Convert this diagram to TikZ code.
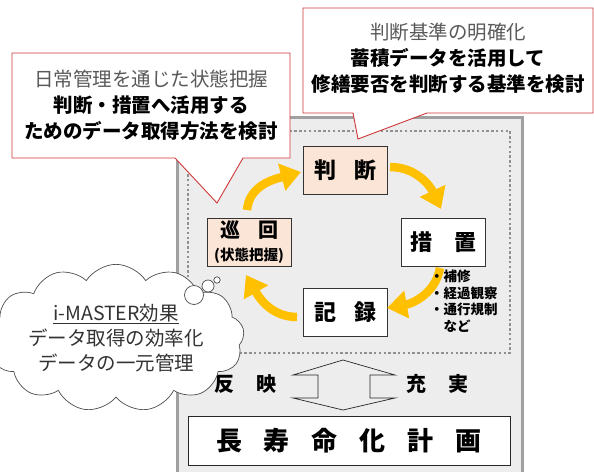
\documentclass[tikz,border=0pt]{standalone}
\usepackage{fontspec}
\setmainfont{Noto Sans CJK JP}
\usetikzlibrary{arrows.meta,shapes.symbols}
\definecolor{ayel}{HTML}{FFC000}
\definecolor{apeach}{HTML}{FBE5D6}
\definecolor{abg}{HTML}{EDEDED}
\definecolor{agrayline}{HTML}{A0A0A0}
\definecolor{ared}{HTML}{D03838}
\definecolor{atxtgray}{HTML}{595959}
\tikzset{
  cyc/.style={draw=ayel, line width=8.5pt, -{Triangle[width=27pt 0 0,length=20pt 0 0]}},
  stepbox/.style={draw=black!80, line width=0.8pt, minimum width=84pt, minimum height=48pt, font=\bfseries\fontsize{22}{24}\selectfont, inner sep=0pt},
  callout/.style={draw=ared, line width=0.9pt, fill=white},
  calltext/.style={align=center, font=\fontsize{19.5}{26}\selectfont},
}
\begin{document}
\begin{tikzpicture}[x=1pt,y=1pt]
\useasboundingbox (0,0) rectangle (594,-471);
% gray outer box
\path[fill=abg] (177,-117) rectangle (522,-480);
\draw[agrayline, line width=3pt] (177,-480) -- (177,-117) -- (522,-117) -- (522,-480);
% dotted frame
\draw[agrayline!90!black, line width=2.4pt, dash pattern=on 2.4pt off 2.4pt] (188,-131) rectangle (510,-353);
% step nodes
\node[stepbox, fill=apeach] (hd) at (345,-170) {判\hspace{18pt}断};
\node[stepbox, fill=white] (sc) at (443,-242) {措\hspace{22pt}置};
\node[stepbox, fill=white] (kr) at (345,-312) {記\hspace{18pt}録};
\node[stepbox, fill=apeach, align=center] (jk) at (249,-242) {\fontsize{20}{22}\selectfont 巡\hspace{18pt}回\\[-1pt]\fontsize{14.5}{16}\selectfont (状態把握)};
% cycle arrows
\coordinate (a1s) at (247,-210); \coordinate (a1e) at (301,-172);
\coordinate (a2s) at (390,-167); \coordinate (a2e) at (441,-209);
\coordinate (a3s) at (440,-268); \coordinate (a3e) at (387,-308);
\coordinate (a4s) at (297,-317); \coordinate (a4e) at (246,-275);
\draw[cyc] (a1s) to[out=85, in=195] (a1e);
\draw[cyc] (a2s) to[out=0, in=115] (a2e);
\draw[cyc] (a3s) to[out=-100, in=10] (a3e);
\draw[cyc] (a4s) to[out=180, in=-60] (a4e);
% bullets
\node[anchor=north west, inner sep=0pt, font=\bfseries\fontsize{13.5}{16.5}\selectfont] (bl) at (430,-270)
  {\begin{tabular}{@{}l@{}l@{}}・&補修\\・&経過観察\\・&通行規制\\ &など\end{tabular}};
% up-down arrow
\draw[black!85, line width=0.7pt, fill=abg] (343,-360) -- (395,-375) -- (370,-375) -- (370,-398) -- (395,-398) -- (343,-410) -- (293,-398) -- (318,-398) -- (318,-375) -- (293,-375) -- cycle;
\node[font=\bfseries\fontsize{20}{22}\selectfont] (hanei) at (245,-384) {反\hspace{22pt}映};
\node[font=\bfseries\fontsize{20}{22}\selectfont] (juji) at (437,-384) {充\hspace{22pt}実};
% plan box
\node[draw=black!85, line width=0.8pt, fill=white, minimum width=322pt, minimum height=49pt, font=\bfseries\fontsize{26}{28}\selectfont, inner sep=0pt] (plan) at (349,-441)
  {長\hspace{22pt}寿\hspace{22pt}命\hspace{22pt}化\hspace{22pt}計\hspace{22pt}画};
% left callout
\draw[callout] (12,-53) -- (290,-53) -- (290,-158) -- (243,-158) -- (217,-203) -- (175,-158) -- (12,-158) -- cycle;
\node[calltext] (c1) at (151,-105) {\textcolor{atxtgray}{日常管理を通じた状態把握}\\\textbf{判断・措置へ活用する}\\\textbf{ためのデータ取得方法を検討}};
% right callout
\draw[callout] (303,-8) -- (593,-8) -- (593,-113) -- (427,-113) -- (358,-139) -- (353,-113) -- (303,-113) -- cycle;
\node[calltext] (c2) at (448,-58) {\textcolor{atxtgray}{判断基準の明確化}\\\textbf{蓄積データを活用して}\\\textbf{修繕要否を判断する基準を検討}};
% cloud
\node[cloud, cloud puffs=13, cloud puff arc=115, aspect=2.1, draw=black!70, line width=0.7pt, fill=white, minimum width=210pt, minimum height=100pt, inner sep=0pt, align=center, text=black!80, font=\fontsize{19.5}{25}\selectfont] (cl) at (116,-338)
  {\underline{i-MASTER効果}\\データ取得の効率化\\データの一元管理};
\draw[black!70, line width=0.7pt, fill=white] (194,-295) circle (9.5);
\draw[black!70, line width=0.7pt, fill=white] (208,-286) circle (6);
\draw[black!70, line width=0.7pt, fill=white] (217,-280) circle (3.2);
\end{tikzpicture}
\end{document}
